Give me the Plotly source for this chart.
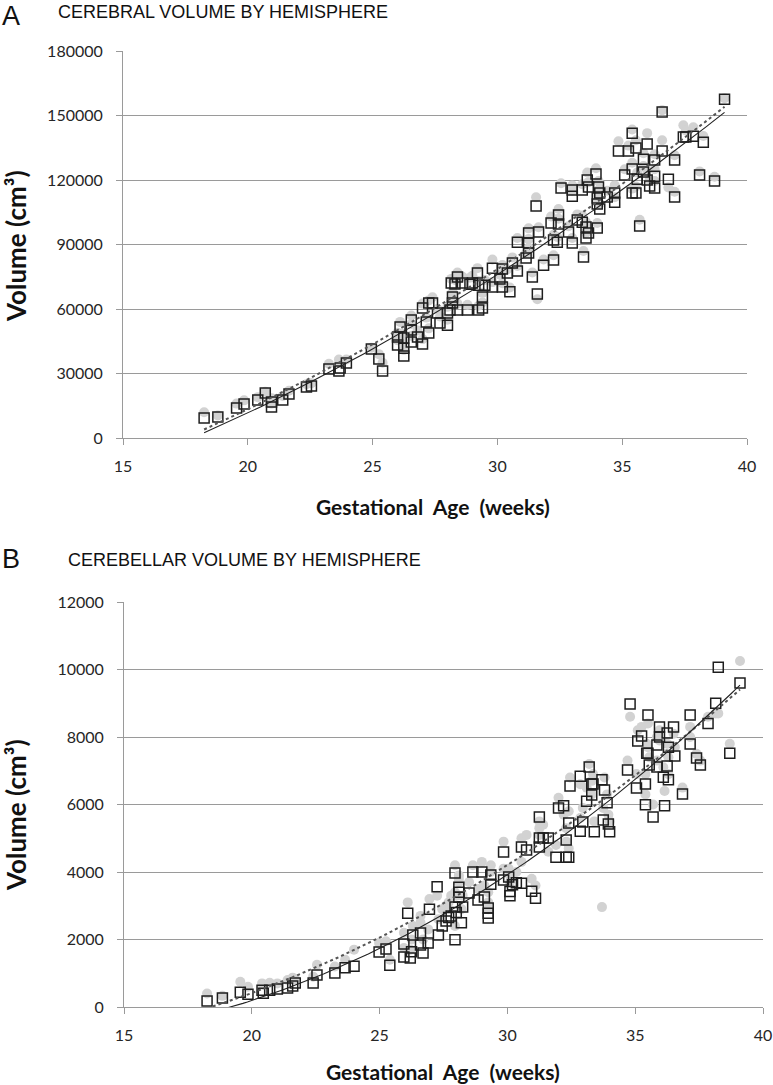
import numpy as np
import plotly.graph_objects as go

W, H = 773, 1085

# ---------------- Panel A: cerebral volume ----------------
ga_a = [18.25, 18.8, 19.55, 19.85, 20.4, 20.7, 20.95, 20.95, 21.4, 21.65, 22.35, 22.55,
        23.25, 23.65, 23.7, 23.95, 24.95, 25.25, 25.4, 26.0, 26.0, 26.1, 26.25, 26.25,
        26.25, 26.55, 26.55, 26.55, 26.8, 27.0, 27.0, 27.15, 27.25, 27.25, 27.4, 27.6,
        27.7, 28.0, 28.0, 28.1, 28.15, 28.2, 28.2, 28.3, 28.4, 28.4, 28.6, 28.8, 28.9,
        29.0, 29.2, 29.25, 29.25, 29.4, 29.4, 29.5, 29.8, 29.8, 30.1, 30.2, 30.2, 30.4,
        30.5, 30.6, 30.8, 30.8, 31.15, 31.25, 31.25, 31.25, 31.4, 31.55, 31.6, 31.65,
        31.85, 32.15, 32.25, 32.25, 32.4, 32.45, 32.45, 32.55, 32.85, 33.0, 33.0, 33.0,
        33.2, 33.4, 33.4, 33.45, 33.55, 33.55, 33.6, 33.65, 33.65, 33.95, 34.0, 34.0,
        34.0, 34.05, 34.1, 34.1, 34.4, 34.7, 34.7, 34.85, 35.1, 35.25, 35.4, 35.4, 35.4,
        35.55, 35.55, 35.6, 35.7, 35.85, 35.85, 36.0, 36.0, 36.1, 36.3, 36.3, 36.3, 36.6,
        36.6, 36.85, 37.1, 37.1, 37.45, 37.55, 37.85, 38.1, 38.25, 38.7, 39.1]
cerebral_right = [9300, 9800, 14000, 15800, 17700, 20900, 16700, 14400, 17700, 20500, 23700, 24200,
                  32100, 31200, 32600, 34900, 41400, 36700, 31200, 43200, 47000, 51600, 46500, 41800,
                  38100, 54900, 50200, 44600, 47000, 60500, 43700, 53900, 62800, 48800, 62800, 58100,
                  53500, 52500, 58100, 59500, 72100, 65600, 62800, 71600, 74900, 59500, 72100, 59500, 71500,
                  72100, 76700, 71100, 59500, 60500, 65600, 71100, 79000, 70200, 73900, 70200, 78600, 76700,
                  68000, 81400, 91100, 77700, 83700, 95300, 90700, 86000, 74900, 107900, 67000, 95800,
                  80400, 100000, 92100, 82800, 91000, 103700, 99500, 116300, 95800, 115300, 112500, 90700,
                  101400, 115300, 100400, 84200, 98100, 93000, 120000, 116700, 95300, 122800, 111600, 108800,
                  97700, 116700, 113900, 106500, 112100, 113900, 109700, 133500, 122300, 133500, 141800, 125100, 113900,
                  134900, 113900, 120400, 98600, 129700, 123700, 136700, 120000, 117200, 129300, 121800, 116300, 151600,
                  133500, 120400, 129300, 112100, 140000, 140000, 140400, 122300, 137600, 119500, 157600]
cerebral_left = [12000, 10500, 16000, 17500, 19000, 21500, 18500, 16000, 19500, 22000, 25000, 25500,
                 34500, 36500, 35000, 36500, 42000, 39000, 35000, 45500, 49000, 54000, 48500, 44500,
                 41000, 57000, 53000, 47500, 50000, 62500, 46000, 56000, 64000, 51000, 65500, 60000,
                 56500, 55000, 61000, 62000, 74000, 68000, 65000, 73500, 77000, 62500, 75000, 62000, 74500,
                 75500, 79000, 73000, 61500, 63000, 67500, 73500, 83000, 72500, 76000, 72000, 80500, 78500,
                 70000, 84000, 93000, 80000, 86000, 97500, 92500, 88500, 77000, 112000, 64500, 98000,
                 83000, 103000, 94500, 85000, 93500, 106500, 102000, 118500, 98500, 117500, 115000, 93000,
                 104000, 118000, 103500, 87000, 100500, 95500, 123500, 119000, 98000, 125500, 114000, 111000,
                 100000, 119500, 116000, 109000, 115000, 117500, 112000, 138000, 125000, 136000, 143500, 128000, 116000,
                 138500, 117000, 123500, 101500, 132500, 126500, 141800, 124500, 120000, 132000, 125000, 119500, 152500,
                 138500, 116500, 131500, 114500, 145500, 143000, 144500, 124000, 140500, 121500, 158000]

# ---------------- Panel B: cerebellar volume ----------------
ga_b = [18.25, 18.85, 19.55, 19.85, 20.4, 20.45, 20.7, 21.0, 21.4, 21.6, 21.7, 22.4, 22.55,
        23.25, 23.65, 24.0, 24.98, 25.25, 25.4, 25.95, 25.95, 26.1, 26.2, 26.25, 26.3, 26.6,
        26.6, 26.7, 26.9, 26.95, 27.25, 27.3, 27.45, 27.6, 27.7, 27.8, 27.95, 27.95, 27.95,
        28.0, 28.1, 28.1, 28.1, 28.2, 28.25, 28.5, 28.65, 28.85, 29.0, 29.1, 29.25, 29.25,
        29.25, 29.35, 29.35, 29.85, 29.85, 30.05, 30.1, 30.1, 30.2, 30.35, 30.55, 30.55, 30.75,
        30.95, 31.1, 31.25, 31.25, 31.25, 31.4, 31.6, 31.9, 32.0, 32.2, 32.3, 32.3, 32.4, 32.4,
        32.45, 32.85, 32.85, 32.95, 33.1, 33.2, 33.3, 33.35, 33.3, 33.4, 33.7, 33.75, 33.8,
        33.9, 33.95, 34.0, 34.7, 34.8, 35.05, 35.1, 35.25, 35.4, 35.4, 35.45, 35.5, 35.5,
        35.55, 35.7, 35.85, 35.85, 35.95, 35.95, 36.1, 36.15, 36.25, 36.25, 36.3, 36.3, 36.5,
        36.55, 36.85, 37.15, 37.15, 37.4, 37.55, 37.85, 38.15, 38.25, 38.7, 39.1]
cerebellar_right = [180, 270, 440, 380, 500, 410, 500, 530, 560, 620, 710, 710, 950,
                    1010, 1160, 1210, 1630, 1720, 1240, 1870, 1480, 2780, 1450, 1640, 2130, 1840,
                    2190, 1600, 1900, 2900, 3560, 2130, 2400, 2550, 2650, 2700, 2960, 1990, 3970,
                    2800, 3250, 3400, 3550, 2500, 2960, 3380, 4000, 3170, 4000, 3260, 2640, 2780,
                    2930, 3640, 3910, 4590, 3760, 3850, 3300, 3420, 3620, 3680, 4740, 3670, 4650,
                    3430, 3220, 4740, 5010, 5630, 5010, 5010, 4440, 5900, 5960, 4950, 4440, 5450, 4440,
                    6550, 6840, 5210, 5480, 6100, 7110, 6610, 6610, 6280, 5190, 6730, 5540, 6430,
                    6050, 5420, 5190, 7020, 8980, 6490, 7880, 8030, 6610, 5990, 7520, 8650, 7520,
                    7170, 5630, 7760, 7110, 8300, 8000, 6810, 5960, 8120, 7140, 7700, 6730, 8300,
                    7440, 6310, 8650, 7790, 7380, 7170, 8400, 9000, 10070, 7520, 9600]
cerebellar_left = [400, 330, 750, 600, 700, 650, 720, 700, 800, 870, 820, 900, 1250,
                   1200, 1400, 1700, 1900, 1950, 1400, 2200, 1750, 3100, 1700, 2000, 2400, 2500,
                   2700, 2000, 2300, 3200, 3300, 2600, 2900, 3000, 3100, 3300, 3400, 2400, 4200,
                   3300, 3700, 3800, 3900, 2900, 3300, 3700, 4200, 3500, 4300, 3600, 2900, 3100,
                   3400, 4000, 4200, 4900, 4100, 4100, 3700, 3900, 3900, 4000, 5000, 4300, 5100,
                   3800, 3600, 5100, 5300, 5500, 5400, 4600, 4800, 6200, 5700, 5300, 4900, 5800, 4700,
                   6800, 6600, 5600, 5900, 6500, 7200, 6300, 6900, 6700, 5500, 2960, 5900, 6800,
                   6300, 5700, 5500, 7300, 8600, 6900, 8200, 8300, 6900, 6300, 7800, 8400, 7700,
                   7400, 6000, 8000, 7300, 7900, 8200, 7100, 6400, 7800, 7500, 7400, 6900, 8100,
                   7700, 6500, 8300, 8000, 7500, 7300, 8600, 8700, 8700, 7800, 10250]

x_ticks = [15, 20, 25, 30, 35, 40]
y_ticks_a = [0, 30000, 60000, 90000, 120000, 150000, 180000]
y_ticks_b = [0, 2000, 4000, 6000, 8000, 10000, 12000]


def px(x):
    return x / W


def py(y):
    return 1 - y / H


def trend(xs, ys):
    c = np.polyfit(np.array(xs, float), np.array(ys, float), 2)
    xx = np.linspace(min(xs), max(xs), 120)
    return xx, np.polyval(c, xx)


CIRCLE = dict(symbol="circle", size=10, color="#d2d2d2", line=dict(width=0))
SQUARE = dict(symbol="square-open", size=10, color="#1e1e1e", line=dict(width=1.5, color="#1e1e1e"))

fig = go.Figure()
for (xs, left, right, xa, ya) in [(ga_a, cerebral_left, cerebral_right, "x", "y"),
                                  (ga_b, cerebellar_left, cerebellar_right, "x2", "y2")]:
    fig.add_trace(go.Scatter(x=xs, y=left, mode="markers", marker=CIRCLE, xaxis=xa, yaxis=ya,
                             name="Left", showlegend=False))
    fig.add_trace(go.Scatter(x=xs, y=right, mode="markers", marker=SQUARE, xaxis=xa, yaxis=ya,
                             name="Right", showlegend=False))
    tx, ty = trend(xs, left)
    fig.add_trace(go.Scatter(x=tx, y=ty, mode="lines", line=dict(color="#555555", width=2, dash="dot"),
                             xaxis=xa, yaxis=ya, showlegend=False, hoverinfo="skip"))
    tx, ty = trend(xs, right)
    fig.add_trace(go.Scatter(x=tx, y=ty, mode="lines", line=dict(color="#222222", width=1.1),
                             xaxis=xa, yaxis=ya, showlegend=False, hoverinfo="skip"))

AX_COL = "#9a9a9a"
TICK_FONT = dict(family="Lato", size=16, color="#262626")

xcommon = dict(range=[15, 40], tickvals=x_ticks, showgrid=False, zeroline=False, showline=True,
               linecolor=AX_COL, linewidth=1, ticks="outside", ticklen=6, tickcolor=AX_COL,
               tickfont=TICK_FONT, ticklabelstandoff=8, fixedrange=True)
ycommon = dict(showgrid=True, gridcolor=AX_COL, gridwidth=1, zeroline=False, showline=True,
               linecolor=AX_COL, linewidth=1, ticks="outside", ticklen=6, tickcolor=AX_COL,
               tickfont=TICK_FONT, tickformat="d", ticklabelstandoff=10, fixedrange=True)

fig.update_layout(
    width=W, height=H,
    autosize=False,
    margin=dict(l=0, r=0, t=0, b=0, pad=0, autoexpand=False),
    paper_bgcolor="white", plot_bgcolor="white",
    showlegend=False,
    xaxis=dict(domain=[px(123), px(747)], anchor="y", **xcommon),
    yaxis=dict(domain=[py(438), py(51)], anchor="x", range=[0, 180000], tickvals=y_ticks_a, **ycommon),
    xaxis2=dict(domain=[px(124), px(763)], anchor="y2", **xcommon),
    yaxis2=dict(domain=[py(1007), py(602)], anchor="x2", range=[0, 12000], tickvals=y_ticks_b, **ycommon),
)

TITLE_FONT = dict(family="Liberation Sans", size=18, color="#111111")
LETTER_FONT = dict(family="Liberation Sans", size=27, color="#111111")
AXT_FONT = dict(family="Lato", size=21, color="#111111")
YT_FONT = dict(family="Lato", size=26, color="#111111")

ann = [
    dict(text="A", x=px(1), y=py(16), xanchor="left", yanchor="middle", font=LETTER_FONT),
    dict(text="CEREBRAL VOLUME BY HEMISPHERE", x=px(57), y=py(12), xanchor="left", yanchor="middle", font=TITLE_FONT),
    dict(text="B", x=px(1), y=py(559), xanchor="left", yanchor="middle", font=LETTER_FONT),
    dict(text="CEREBELLAR VOLUME BY HEMISPHERE", x=px(67), y=py(560), xanchor="left", yanchor="middle", font=TITLE_FONT),
    dict(text="<b>Gestational  Age  (weeks)</b>", x=px(433), y=py(506), xanchor="center", yanchor="middle", font=AXT_FONT),
    dict(text="<b>Gestational  Age  (weeks)</b>", x=px(443), y=py(1071), xanchor="center", yanchor="middle", font=AXT_FONT),
    dict(text="<b>Volume (cm³)</b>", x=px(16), y=py(246), xanchor="center", yanchor="middle", textangle=-90, font=YT_FONT),
    dict(text="<b>Volume (cm³)</b>", x=px(16), y=py(815), xanchor="center", yanchor="middle", textangle=-90, font=YT_FONT),
]
for a in ann:
    a.update(xref="paper", yref="paper", showarrow=False, borderpad=0)
fig.update_layout(annotations=ann)

fig.write_html(
    "out.html",
    config={"displayModeBar": False},
    post_script="document.body.style.margin='0px';document.body.style.padding='0px';"
                "document.documentElement.style.overflow='hidden';",
)
